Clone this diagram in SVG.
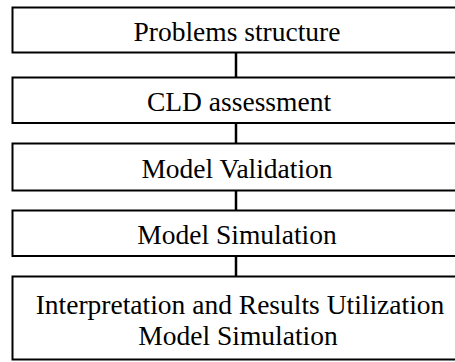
<svg xmlns="http://www.w3.org/2000/svg" width="455" height="362" viewBox="0 0 455 362">
  <style>
    .box { fill: #ffffff; stroke: #000000; stroke-width: 2; }
    .lbl { font-family: "Liberation Serif", "Times New Roman", serif; font-size: 27.5px; fill: #000000; text-anchor: middle; }
    .conn { stroke: #000000; stroke-width: 2.5; fill: none; }
  </style>
  <rect x="0" y="0" width="455" height="362" fill="#ffffff"/>
  <g id="connectors">
    <line class="conn" x1="236" y1="52.5" x2="236" y2="77.5"/>
    <line class="conn" x1="236" y1="123" x2="236" y2="143.5"/>
    <line class="conn" x1="236" y1="190.5" x2="236" y2="210.5"/>
    <line class="conn" x1="236" y1="256" x2="236" y2="276.5"/>
  </g>
  <g id="node1">
    <rect class="box" x="12.5" y="7.5" width="460" height="45"/>
    <text class="lbl" x="237" y="41">Problems structure</text>
  </g>
  <g id="node2">
    <rect class="box" x="12.5" y="77.5" width="460" height="45.5"/>
    <text class="lbl" x="239" y="110.5">CLD assessment</text>
  </g>
  <g id="node3">
    <rect class="box" x="12.5" y="143.5" width="460" height="47"/>
    <text class="lbl" x="237" y="178">Model Validation</text>
  </g>
  <g id="node4">
    <rect class="box" x="12.5" y="210.5" width="460" height="45.5"/>
    <text class="lbl" x="237" y="244">Model Simulation</text>
  </g>
  <g id="node5">
    <rect class="box" x="12.5" y="276.5" width="460" height="83"/>
    <text class="lbl" x="240" y="313.5">Interpretation and Results Utilization</text>
    <text class="lbl" x="238" y="345">Model Simulation</text>
  </g>
</svg>
